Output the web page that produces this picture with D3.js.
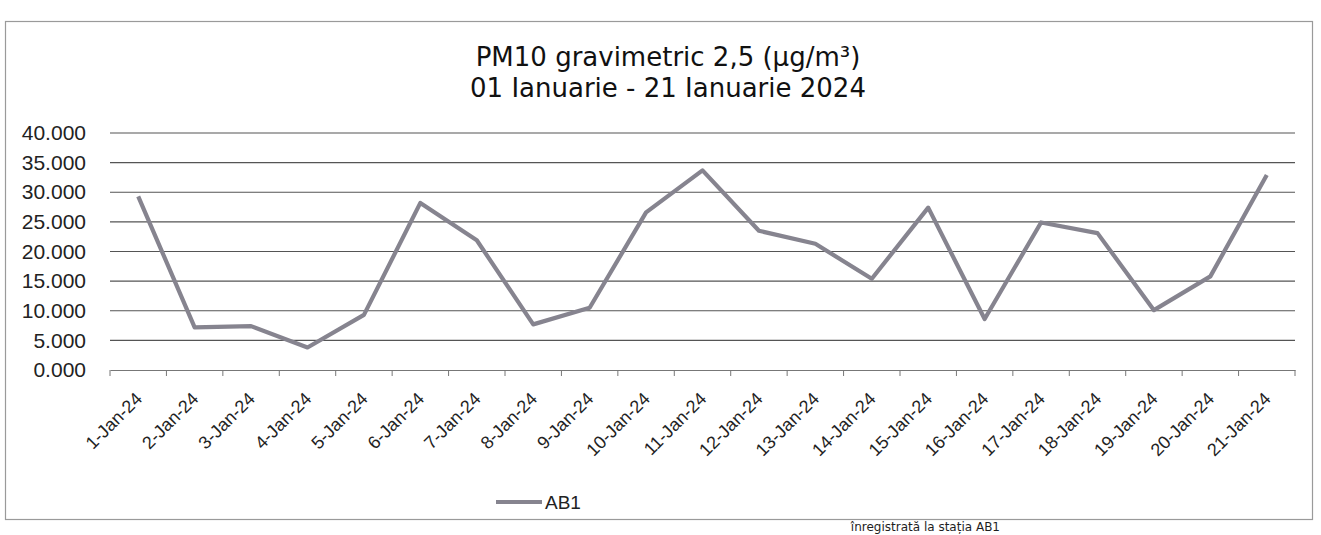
<!DOCTYPE html>
<html>
<head>
<meta charset="utf-8">
<script src="https://cdn.jsdelivr.net/npm/d3@7"></script>
<style>
html,body{margin:0;padding:0;background:#fff;}
svg{display:block;}
</style>
</head>
<body>
<svg id="chart" width="1321" height="535"></svg>
<script>
const titleLines = ["PM10 gravimetric 2,5 (\u00b5g/m\u00b3)", "01 Ianuarie - 21 Ianuarie 2024"];
const categories = ["1-Jan-24","2-Jan-24","3-Jan-24","4-Jan-24","5-Jan-24","6-Jan-24","7-Jan-24","8-Jan-24","9-Jan-24","10-Jan-24","11-Jan-24","12-Jan-24","13-Jan-24","14-Jan-24","15-Jan-24","16-Jan-24","17-Jan-24","18-Jan-24","19-Jan-24","20-Jan-24","21-Jan-24"];
const seriesName = "AB1";
const values = [29.3, 7.2, 7.4, 3.8, 9.3, 28.2, 21.9, 7.7, 10.5, 26.6, 33.7, 23.5, 21.3, 15.4, 27.4, 8.6, 24.9, 23.1, 10.1, 15.8, 32.9];
const yTicks = [0, 5, 10, 15, 20, 25, 30, 35, 40];
const caption = "\u00eenregistrat\u0103 la sta\u021bia AB1";

const svg = d3.select("#chart");
const plot = {left: 110, right: 1295, top: 133, bottom: 370};

// frame
svg.append("rect").attr("x", 5.5).attr("y", 21.5).attr("width", 1307).attr("height", 498)
  .attr("fill", "#fff").attr("stroke", "#9a9a9a").attr("stroke-width", 1.2);

// title
const title = svg.append("text").attr("text-anchor", "middle")
  .attr("font-family", "DejaVu Sans, sans-serif").attr("font-size", 26).attr("fill", "#111");
title.selectAll("tspan").data(titleLines).join("tspan")
  .attr("x", 668).attr("y", (d, i) => 66 + i * 31).text(d => d);

const x = d3.scaleBand().domain(categories).range([plot.left, plot.right]).padding(0);
const y = d3.scaleLinear().domain([0, 40]).range([plot.bottom, plot.top]);

// gridlines
svg.append("g").selectAll("line").data(yTicks.filter(v => v > 0)).join("line")
  .attr("x1", plot.left).attr("x2", plot.right)
  .attr("y1", d => y(d)).attr("y2", d => y(d))
  .attr("stroke", "#555").attr("stroke-width", 1.1);

// y axis labels
const yAxis = d3.axisLeft(y).tickValues(yTicks).tickSize(0).tickPadding(0).tickFormat(d3.format(".3f"));
const gy = svg.append("g").attr("transform", `translate(${plot.left - 24},0)`).call(yAxis);
gy.select(".domain").remove();
gy.selectAll("text").attr("font-family", "Liberation Sans, Arial, sans-serif")
  .attr("font-size", 21).attr("fill", "#222");

// x axis
const xAxis = d3.axisBottom(x).tickSize(0).tickFormat(d => d);
const gx = svg.append("g").attr("transform", `translate(0,${plot.bottom})`).call(xAxis);
gx.select(".domain").attr("stroke", "#777").attr("stroke-width", 1.2);
gx.selectAll(".tick line").remove();
gx.selectAll("text")
  .attr("font-family", "Liberation Sans, Arial, sans-serif").attr("font-size", 18).attr("fill", "#222")
  .attr("text-anchor", "end").attr("dy", 0).attr("y", 0)
  .attr("transform", "translate(5,30) rotate(-45)");
// boundary tick marks
const bounds = categories.map(c => x(c)).concat([plot.right]);
svg.append("g").selectAll("line").data(bounds).join("line")
  .attr("x1", d => d).attr("x2", d => d)
  .attr("y1", plot.bottom).attr("y2", plot.bottom + 6)
  .attr("stroke", "#777").attr("stroke-width", 1);

// series line
const line = d3.line().x((d, i) => x(categories[i]) + x.bandwidth() / 2).y(d => y(d));
svg.append("path").datum(values).attr("d", line)
  .attr("fill", "none").attr("stroke", "#86848f").attr("stroke-width", 4.2)
  .attr("stroke-linejoin", "round");

// legend
svg.append("line").attr("x1", 496).attr("x2", 542).attr("y1", 502).attr("y2", 502)
  .attr("stroke", "#86848f").attr("stroke-width", 4.2);
svg.append("text").attr("x", 545).attr("y", 509).text(seriesName)
  .attr("font-family", "Liberation Sans, Arial, sans-serif").attr("font-size", 19).attr("fill", "#222");

// caption fragment below the frame
svg.append("text").attr("x", 1000).attr("y", 531).attr("text-anchor", "end").text(caption)
  .attr("font-family", "DejaVu Sans, sans-serif").attr("font-size", 12).attr("fill", "#1e1e1e");
</script>
</body>
</html>
